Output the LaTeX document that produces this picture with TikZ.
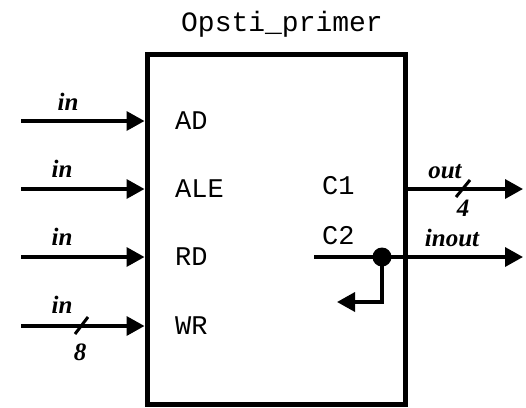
\documentclass[tikz,border=0pt]{standalone}
\usepackage{fontspec}
\newfontfamily\monofont{Liberation Mono}
\newfontfamily\timesfont{Liberation Serif}
\usepackage{tikz}
\usetikzlibrary{arrows.meta,positioning}

\begin{document}
\begin{tikzpicture}[x=1pt,y=-1pt]

\tikzset{sig/.style={line width=3.5pt,-{Triangle[length=18pt,width=19pt]}},
         pin/.style={font=\monofont\fontsize{27}{27}\selectfont,anchor=west,inner sep=0pt},
         lbl/.style={font=\timesfont\bfseries\itshape\fontsize{25}{25}\selectfont,inner sep=0pt},
         bus/.style={line width=3pt}}

\useasboundingbox (0,0) rectangle (526,407);

\node[font=\monofont\fontsize{28}{28}\selectfont] (title) at (282,24) {Opsti\_primer};
\node[draw,line width=5pt,minimum width=258pt,minimum height=350pt,inner sep=0pt,anchor=north west] (box) at (144.5,52) {};

% ulazi
\foreach \name/\y [count=\i] in {AD/121,ALE/189,RD/257,WR/326} {
    \coordinate (in\i) at (21,\y);
    \node[pin] (p\i) at (175,\y) {\name};
    \draw[sig] (in\i) -- (in\i -| box.west);
}
\node[lbl] (l1) at (68,102) {in};
\node[lbl] (l2) at (62,169) {in};
\node[lbl] (l3) at (62,237) {in};
\node[lbl] (l4) at (62,305) {in};
\coordinate (s1) at (75,334);
\coordinate (s2) at (88,317);
\draw[bus] (s1) -- (s2);
\node[lbl] (w8) at (80,352) {8};

% izlazi
\node[pin] (c1) at (322,186) {C1};
\node[pin] (c2) at (322,236) {C2};
\coordinate (c1o) at (403,189);
\coordinate (c1e) at (523,189);
\draw[sig] (c1o) -- (c1e);
\coordinate (s3) at (456,197);
\coordinate (s4) at (470,180);
\draw[bus] (s3) -- (s4);
\node[lbl] (out) at (445,172) {out};
\node[lbl] (o4) at (463,208) {4};

\coordinate (c2s) at (314,257);
\coordinate (c2e) at (523,257);
\coordinate (dot) at (382,257);
\coordinate (ret) at (337,302);
\draw[line width=3.5pt] (c2s) -- (dot);
\draw[sig] (dot) -- (c2e);
\draw[sig] (dot) |- (ret);
\fill (dot) circle (9.5pt);
\node[lbl] (io) at (452,238) {inout};

\end{tikzpicture}
\end{document}
